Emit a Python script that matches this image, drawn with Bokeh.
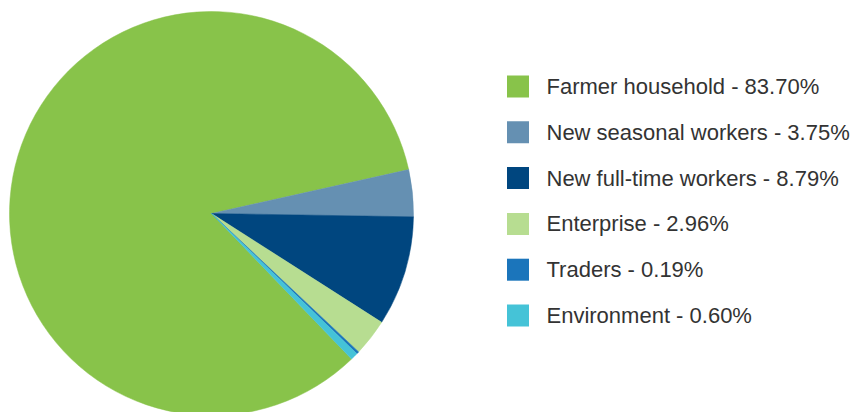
import math
from bokeh.plotting import figure
from bokeh.models import ColumnDataSource, Range1d
from bokeh.core.properties import value
from bokeh.embed import file_html
from bokeh.resources import INLINE

categories = ["Farmer household", "New seasonal workers", "New full-time workers",
              "Enterprise", "Traders", "Environment"]
shares = [83.70, 3.75, 8.79, 2.96, 0.19, 0.60]
colors = ["#88C34A", "#6590B2", "#00467F", "#B7DD91", "#1B75BB", "#45C3D7"]

W, H = 850, 412
p = figure(width=W, height=H, output_backend="svg", toolbar_location=None,
           x_range=Range1d(0, W), y_range=Range1d(0, H),
           min_border=0, min_border_left=0, min_border_right=0,
           min_border_top=0, min_border_bottom=0)
p.axis.visible = False
p.grid.visible = False
p.outline_line_color = None
p.background_fill_color = "white"
p.border_fill_color = "white"

# pie geometry (pixel-like units)
cx, cy, r = 211, 199, 202
start0 = math.radians(-46.1)
total = sum(shares)
starts, ends = [], []
acc = 0.0
for s in shares:
    starts.append(start0 - acc / total * 2 * math.pi)
    acc += s
    ends.append(start0 - acc / total * 2 * math.pi)

src = ColumnDataSource(dict(start=starts, end=ends, color=colors))
p.wedge(x=cx, y=cy, radius=r, start_angle="start", end_angle="end",
        direction="clock", fill_color="color", line_color="color", line_width=0.5,
        source=src)

# legend
lx, ly0, step, sq = 517.5, 326, 45.8, 22
ys = [ly0 - i * step for i in range(len(categories))]
labels = [f"{c} - {s:.2f}%" for c, s in zip(categories, shares)]
lsrc = ColumnDataSource(dict(x=[lx] * len(ys), y=ys, color=colors,
                             tx=[lx + 28.5] * len(ys), label=labels))
p.rect(x="x", y="y", width=sq, height=sq, fill_color="color", line_color=None, source=lsrc)
p.text(x="tx", y="y", text="label", text_font=value("Liberation Sans"),
       text_font_size="22px", text_color="#333333", text_baseline="middle",
       text_align="left", source=lsrc)

open("out.html", "w").write(file_html(p, INLINE))
